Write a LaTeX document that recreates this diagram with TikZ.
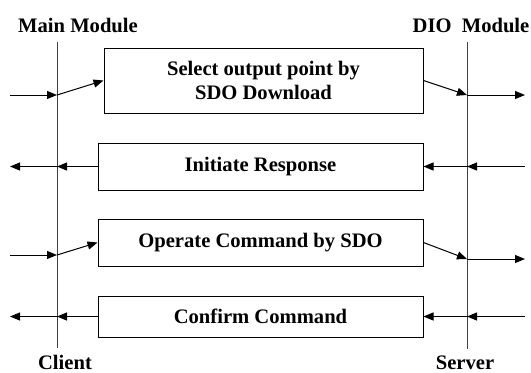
\documentclass[tikz,border=0pt]{standalone}
\usepackage{fontspec}
\setmainfont{Liberation Serif}
\usetikzlibrary{arrows.meta}
\begin{document}
\begin{tikzpicture}[x=0.5pt,y=-0.5pt,
  every node/.style={font=\fontsize{10.3}{12.2}\selectfont\bfseries, inner sep=0pt},
  msgbox/.style={draw, line width=0.5pt, align=center},
  life/.style={line width=0.5pt, black!75},
  conn/.style={line width=0.5pt, -{Triangle[length=5pt,width=4pt]}}]
\useasboundingbox (0,0) rectangle (531,372);
% labels
\node (mm) at (78,25) {Main Module};
\node (dio) at (471,25) {DIO\ \ Module};
\node (cl) at (65,362) {Client};
\node (sv) at (465,363) {Server};
% lifelines
\coordinate (lt) at (57,42);
\coordinate (lb) at (57,348);
\coordinate (rt) at (467,42);
\coordinate (rb) at (467,349);
\draw[life] (lt) -- (lb);
\draw[life] (rt) -- (rb);
% boxes
\node[msgbox, minimum width=159.5pt, minimum height=32.5pt] (b1) at (263.5,80.5) {Select output point by\\SDO Download};
\node[msgbox, minimum width=162.5pt, minimum height=23.5pt] (b2) at (260.5,166.5) {Initiate Response};
\node[msgbox, minimum width=162.5pt, minimum height=23.5pt] (b3) at (260.5,242.5) {Operate Command by SDO};
\node[msgbox, minimum width=162.5pt, minimum height=20.5pt] (b4) at (260.5,316.5) {Confirm Command};
% connector points
\coordinate (i1) at (10,95);   \coordinate (l1) at (57,95);
\coordinate (r1) at (467,95);  \coordinate (o1) at (525,95);
\coordinate (i2) at (525,166.5); \coordinate (r2) at (467,166.5);
\coordinate (l2) at (57,166.5);  \coordinate (o2) at (10,166.5);
\coordinate (i3) at (10,255);  \coordinate (l3) at (57,255);
\coordinate (r3) at (467,259); \coordinate (o3) at (525,259);
\coordinate (i4) at (525,316.5); \coordinate (r4) at (467,316.5);
\coordinate (l4) at (57,316.5);  \coordinate (o4) at (10,316.5);
% connectors
\draw[conn] (i1) -- (l1);
\draw[conn] (l1) -- (b1.west);
\draw[conn] (b1.east) -- (r1);
\draw[conn] (r1) -- (o1);
\draw[conn] (i2) -- (r2);
\draw[conn] (r2) -- (b2.east);
\draw[conn] (b2.west) -- (l2);
\draw[conn] (l2) -- (o2);
\draw[conn] (i3) -- (l3);
\draw[conn] (l3) -- (b3.west);
\draw[conn] (b3.east) -- (r3);
\draw[conn] (r3) -- (o3);
\draw[conn] (i4) -- (r4);
\draw[conn] (r4) -- (b4.east);
\draw[conn] (b4.west) -- (l4);
\draw[conn] (l4) -- (o4);
\end{tikzpicture}
\end{document}
